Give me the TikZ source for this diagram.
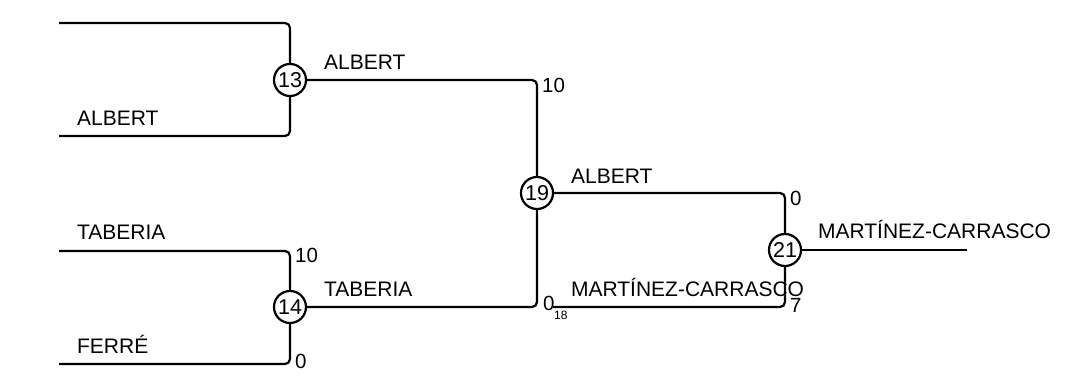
\documentclass[tikz,border=0pt]{standalone}
\usepackage{fontspec}
\setmainfont{Liberation Sans}
\begin{document}
\begin{tikzpicture}[x=1pt,y=-1pt,
  line width=2.2pt,
  wire/.style={draw, rounded corners=5pt},
  matchnode/.style={circle, draw, line width=2.2pt, fill=white, minimum size=32pt, inner sep=0pt, font=\fontsize{21.5}{24}\selectfont},
  player/.style={anchor=base west, inner sep=0pt, font=\fontsize{21}{25}\selectfont},
  scorelbl/.style={anchor=base west, inner sep=0pt, font=\fontsize{20.5}{24}\selectfont},
  sublbl/.style={anchor=base west, inner sep=0pt, font=\fontsize{12}{14}\selectfont}]
\useasboundingbox (0,0) rectangle (1067,380);

\node[matchnode] (n13) at (290,80) {13};
\node[matchnode] (n14) at (290,307) {14};
\node[matchnode] (n19) at (537,193) {19};
\node[matchnode] (n21) at (785,250) {21};

\coordinate (a1) at (59,23);
\coordinate (a2) at (59,136);
\coordinate (b1) at (59,251);
\coordinate (b2) at (59,364);
\coordinate (c1) at (553,307);
\coordinate (fin) at (967,250);

\path[wire] (a1) -| (n13);
\path[wire] (a2) -| (n13);
\path[wire] (b1) -| (n14);
\path[wire] (b2) -| (n14);
\path[wire] (n13) -| (n19);
\path[wire] (n14) -| (n19);
\path[wire] (n19) -| (n21);
\path[wire] (c1) -| (n21);
\path[wire] (n21) -- (fin);

\node[player] (t1) at (76,125) {ALBERT};
\node[player] (t2) at (76,239) {TABERIA};
\node[player] (t3) at (76,353) {FERRÉ};
\node[player] (t4) at (323,69) {ALBERT};
\node[player] (t5) at (323,296) {TABERIA};
\node[player] (t6) at (570,183) {ALBERT};
\node[player] (t7) at (570,296) {MARTÍNEZ-CARRASCO};
\node[player] (t8) at (817,238) {MARTÍNEZ-CARRASCO};

\node[scorelbl] (s1) at (294,262) {10};
\node[scorelbl] (s2) at (294,368) {0};
\node[scorelbl] (s3) at (541,92) {10};
\node[scorelbl] (s4) at (542,310) {0};
\node[sublbl] (s5) at (553,319) {18};
\node[scorelbl] (s6) at (789,205) {0};
\node[scorelbl] (s7) at (789,312) {7};
\end{tikzpicture}
\end{document}
